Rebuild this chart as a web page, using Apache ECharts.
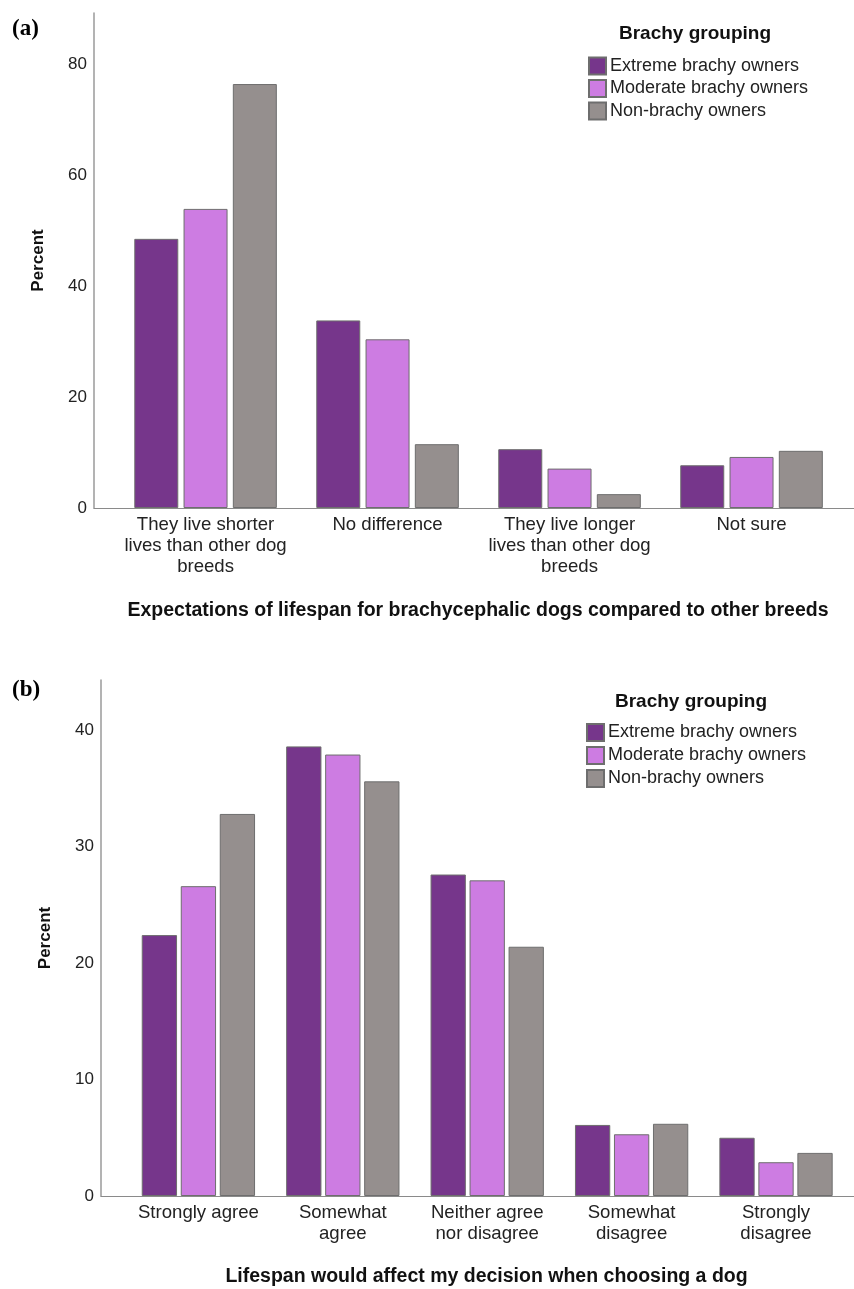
<!DOCTYPE html>
<html>
<head>
<meta charset="utf-8">
<script src="https://cdn.jsdelivr.net/npm/echarts@6/dist/echarts.min.js"></script>
<style>
html,body{margin:0;padding:0;background:#fff;}
#chart{width:854px;height:1289px;}
</style>
</head>
<body>
<div id="chart"></div>
<script>
// ---- data ----
const seriesNames = ['Extreme brachy owners', 'Moderate brachy owners', 'Non-brachy owners'];

const categoriesA = ['They live shorter\nlives than other dog\nbreeds', 'No difference', 'They live longer\nlives than other dog\nbreeds', 'Not sure'];
const extremeA  = [48.5, 33.8, 10.6, 7.7];
const moderateA = [53.9, 30.4, 7.1, 9.2];
const nonA      = [76.4, 11.5, 2.5, 10.3];

const categoriesB = ['Strongly agree', 'Somewhat\nagree', 'Neither agree\nnor disagree', 'Somewhat\ndisagree', 'Strongly\ndisagree'];
const extremeB  = [22.4, 38.6, 27.6, 6.1, 5.0];
const moderateB = [26.6, 37.9, 27.1, 5.3, 2.9];
const nonB      = [32.8, 35.6, 21.4, 6.2, 3.7];

const ticksA = [0, 20, 40, 60, 80];
const ticksB = [0, 10, 20, 30, 40];

// ---- styles ----
const colors = ['#76368B', '#CD7CE2', '#958F8E'];
const FONT = '"Liberation Sans", Arial, sans-serif';
const SERIF = '"Liberation Serif", "Times New Roman", serif';
const textColor = '#222';

function toPairs(arr){ return arr.map((v,i)=>[i,v]); }

function makeSeries(values, axisIdx, barW, gap){
  return values.map((vals, k) => ({
    name: seriesNames[k],
    type: 'bar',
    xAxisIndex: axisIdx,
    yAxisIndex: axisIdx,
    barWidth: barW,
    barGap: gap,
    data: toPairs(vals),
    itemStyle: { color: colors[k], borderColor: '#6e6e6e', borderWidth: 1 },
    emphasis: { disabled: true },
    animation: false
  }));
}

function xAxisCfg(gridIdx, cats, min, max, nameText, nameGap, namePad){
  return {
    type: 'value', gridIndex: gridIdx, min: min, max: max,
    splitLine: { show: false },
    axisLine: { show: true, onZero: false, lineStyle: { color: '#8a8a8a', width: 1.2 } },
    axisTick: { show: false },
    axisLabel: {
      customValues: cats.map((c,i)=>i),
      formatter: v => cats[Math.round(v)],
      color: textColor, fontFamily: FONT, fontSize: 18.6, lineHeight: 20.7, margin: 7,
      align: 'center', verticalAlign: 'top'
    },
    name: nameText, nameLocation: 'middle', nameGap: nameGap,
    nameTextStyle: { fontFamily: FONT, fontSize: 19.5, fontWeight: 'bold', color: '#111', padding: namePad }
  };
}

function yAxisCfg(gridIdx, max, interval, ticks){
  return {
    type: 'value', gridIndex: gridIdx, min: 0, max: max, interval: interval,
    splitLine: { show: false },
    axisLine: { show: true, onZero: false, lineStyle: { color: '#9a9a9a', width: 1.5 } },
    axisTick: { show: false },
    axisLabel: {
      customValues: ticks,
      color: textColor, fontFamily: FONT, fontSize: 17, margin: 7
    },
    name: 'Percent', nameLocation: 'middle', nameRotate: 90, nameGap: 47,
    nameTextStyle: { fontFamily: FONT, fontSize: 17, fontWeight: 'bold', color: '#111' }
  };
}

function legendCfg(left, top, gap){
  return { orient: 'vertical', left: left, top: top, padding: 0, itemWidth: 17, itemHeight: 17, itemGap: gap, icon: 'rect',
    data: seriesNames, selectedMode: false,
    textStyle: { fontFamily: FONT, fontSize: 18, lineHeight: 17, color: textColor, padding: [0,0,0,-1] } };
}

const chart = echarts.init(document.getElementById('chart'), null, { renderer: 'canvas' });
chart.setOption({
  animation: false,
  backgroundColor: '#fff',
  title: [
    { text: '(a)', left: 12, top: 18, padding: 0, textStyle: { fontFamily: SERIF, fontSize: 23, fontWeight: 'bold', color: '#000' } },
    { text: '(b)', left: 12, top: 679, padding: 0, textStyle: { fontFamily: SERIF, fontSize: 23, fontWeight: 'bold', color: '#000' } },
    { text: 'Brachy grouping', left: 619, top: 24, padding: 0, textStyle: { fontFamily: FONT, fontSize: 19, fontWeight: 'bold', color: '#111' } },
    { text: 'Brachy grouping', left: 615, top: 692, padding: 0, textStyle: { fontFamily: FONT, fontSize: 19, fontWeight: 'bold', color: '#111' } }
  ],
  legend: [
    legendCfg(588, 56.5, 3.5),
    legendCfg(586, 723, 4)
  ],
  grid: [
    { left: 94, top: 13, width: 760, height: 495, containLabel: false },
    { left: 101, top: 680, width: 753, height: 516, containLabel: false }
  ],
  xAxis: [
    xAxisCfg(0, categoriesA, -0.613, 3.563, 'Expectations of lifespan for brachycephalic dogs compared to other breeds', 93, [0,0,0,8]),
    xAxisCfg(1, categoriesB, -0.6745, 4.540, 'Lifespan would affect my decision when choosing a dog', 71, [0,0,0,18])
  ],
  yAxis: [
    yAxisCfg(0, 89.2, 20, ticksA),
    yAxisCfg(1, 44.3, 10, ticksB)
  ],
  series: [
    ...makeSeries([extremeA, moderateA, nonA], 0, 44, '12%'),
    ...makeSeries([extremeB, moderateB, nonB], 1, 35.3, '10.5%')
  ]
});
</script>
</body>
</html>
